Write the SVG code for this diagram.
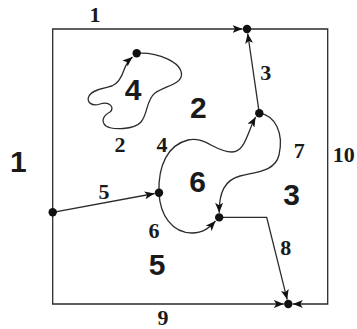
<svg xmlns="http://www.w3.org/2000/svg" width="357" height="329" viewBox="0 0 357 329">
<style>
.e{fill:none;stroke:#2b2b2b;stroke-width:1.3;marker-end:url(#ah)}
.n{fill:#111}
.el{font-family:"Liberation Serif","Times New Roman",serif;font-weight:bold;font-size:22px;fill:#1a1a1a;text-anchor:middle}
.rl{font-family:"Liberation Sans",Arial,sans-serif;font-weight:bold;font-size:30px;fill:#1a1a1a;text-anchor:middle}
</style>
<defs>
<marker id="ah" markerUnits="userSpaceOnUse" markerWidth="10" markerHeight="8" viewBox="0 0 10 8" refX="10" refY="4" orient="auto">
<path d="M0,0 L10,4 L0,8 L2.5,4 z" fill="#111"/>
</marker>
</defs>
<rect width="357" height="329" fill="#fff"/>
<g id="connectors">
<path id="e1" class="e" d="M52.7,212.3 V29 H242.5"/>
<path id="e9" class="e" d="M52.7,212.3 V304 H283.8"/>
<path id="e10" class="e" d="M247,29 H327.7 V304 H292.8"/>
<path id="e3" class="e" d="M259.3,113.3 L247.7,33.5"/>
<path id="e5" class="e" d="M52.7,212.3 L154.6,193.5"/>
<path id="e8" class="e" d="M219.2,217.4 H266.7 L287.2,299.6"/>
<path id="e7" class="e" d="M259.3,113.3 C275,115 284,133 279,155 C275,172 255,172 240,176 C225,180 219,192 219.2,212.8"/>
<path id="e6" class="e" d="M159,192.7 C160,215 172,233 192,233 C203,233 209,228 215.5,221"/>
<path id="e4" class="e" d="M159,192.7 C158,165 168,145 188,140 C205,136 215,152 232,152 C245,152 247,133 255.6,117"/>
<path id="e2" class="e" d="M136.7,53.3 C158,52 182,62 181.5,75 C181,84 165,86 155,93 C146,100 148,114 141,122 C134,130 112,130 106,126 C100,121 104,115 110,112 C115,108 110,101 100,104 C92,107 86,102 89,96 C92,90 104,88 112,86 C119,83 122,76 124,70 C126,64 129,60 132.5,57"/>
</g>
<g id="edge-labels">
<text class="el" x="95" y="22">1</text>
<text class="el" x="120" y="152">2</text>
<text class="el" x="265.7" y="80">3</text>
<text class="el" x="162" y="152">4</text>
<text class="el" x="104" y="199">5</text>
<text class="el" x="154" y="238">6</text>
<text class="el" x="299.3" y="158">7</text>
<text class="el" x="285.7" y="255">8</text>
<text class="el" x="163" y="325">9</text>
<text class="el" x="343.7" y="162">10</text>
</g>
<g id="region-labels">
<text class="rl" x="18.3" y="172">1</text>
<text class="rl" x="198.3" y="118">2</text>
<text class="rl" x="291.7" y="205">3</text>
<text class="rl" x="133" y="100">4</text>
<text class="rl" x="157" y="275">5</text>
<text class="rl" x="197.5" y="192">6</text>
</g>
<g id="node-top"><circle class="n" cx="247" cy="29" r="4.2"/></g>
<g id="node-loop"><circle class="n" cx="136.7" cy="53.3" r="4.2"/></g>
<g id="node-right"><circle class="n" cx="259.3" cy="113.3" r="4.2"/></g>
<g id="node-left"><circle class="n" cx="52.7" cy="212.3" r="4.2"/></g>
<g id="node-center"><circle class="n" cx="159" cy="192.7" r="4.2"/></g>
<g id="node-inner"><circle class="n" cx="219.2" cy="217.4" r="4.2"/></g>
<g id="node-bottom"><circle class="n" cx="288.3" cy="304" r="4.2"/></g>
</svg>
